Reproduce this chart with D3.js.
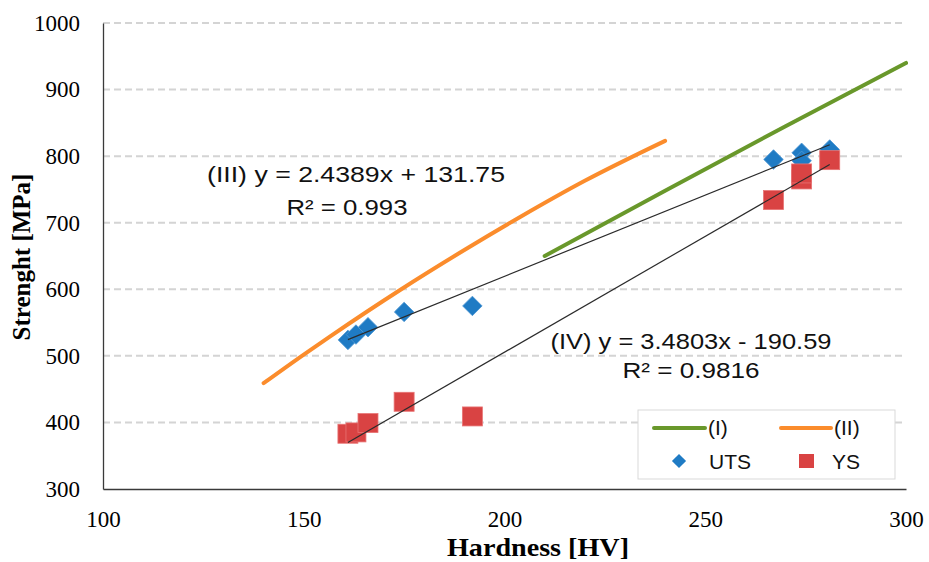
<!DOCTYPE html>
<html>
<head>
<meta charset="utf-8">
<script src="https://cdn.jsdelivr.net/npm/d3@7"></script>
<style>
  html, body { margin: 0; padding: 0; background: #fff; }
  svg { display: block; }
</style>
</head>
<body>
<svg id="chart" width="929" height="562"></svg>
<script>
// Hardness (HV) of the tested samples
const hardness = [161, 163, 166, 175, 192, 267, 274, 274, 281];
// Ultimate tensile strength (MPa)
const uts = [524, 532, 543, 566, 575, 795, 805, 793, 810];
// Yield strength (MPa)
const ys = [383, 385, 399, 431, 409, 734, 765, 774, 794];

// Reference relation (I): hardness, strength
const curveIx = [210, 240, 270, 300];
const curveIy = [650, 748, 845, 940];
// Reference relation (II): hardness, strength
const curveIIx = [140, 150, 156.5, 174, 190, 204, 220, 240];
const curveIIy = [459, 502, 529, 599, 659, 709, 763, 823];

// Linear fits (III) for UTS and (IV) for YS
const fitIII = { slope: 2.4389, intercept: 131.75, r2: "0.993" };
const fitIV = { slope: 3.4803, intercept: -190.59, r2: "0.9816" };
const fitRange = [161, 281];

const xTicks = [100, 150, 200, 250, 300];
const yTicks = [300, 400, 500, 600, 700, 800, 900, 1000];

const svg = d3.select("#chart");
const x = d3.scaleLinear().domain([100, 300]).range([103, 906]);
const y = d3.scaleLinear().domain([300, 1000]).range([489, 23]);

const serif = "'Liberation Serif', 'Times New Roman', serif";
const sans = "'Liberation Sans', Arial, sans-serif";

// horizontal gridlines
svg.append("g").selectAll("line")
  .data(yTicks.filter(v => v > 300))
  .join("line")
  .attr("x1", x(100)).attr("x2", x(300))
  .attr("y1", d => y(d)).attr("y2", d => y(d))
  .attr("stroke", "#d4d4d4").attr("stroke-width", 2)
  .attr("stroke-dasharray", "7,4");

// axes
const fmt = d3.format("d");
const xAxis = d3.axisBottom(x).tickValues(xTicks).tickFormat(fmt).tickSize(0).tickPadding(22);
const yAxis = d3.axisLeft(y).tickValues(yTicks).tickFormat(fmt).tickSize(0).tickPadding(23);

const gx = svg.append("g").attr("transform", `translate(0,${y(300)})`).call(xAxis);
const gy = svg.append("g").attr("transform", `translate(${x(100)},0)`).call(yAxis);
[gx, gy].forEach(g => {
  g.select(".domain").attr("stroke", "#3a3a3a").attr("stroke-width", 1.3);
  g.selectAll("text").attr("font-family", serif).attr("font-size", 23).attr("fill", "#000");
});

// axis titles
svg.append("text")
  .attr("x", 538).attr("y", 556)
  .attr("text-anchor", "middle")
  .attr("font-family", serif).attr("font-weight", "bold").attr("font-size", 25)
  .attr("textLength", 182).attr("lengthAdjust", "spacingAndGlyphs")
  .text("Hardness [HV]");
svg.append("text")
  .attr("transform", `translate(30,257) rotate(-90)`)
  .attr("text-anchor", "middle")
  .attr("font-family", serif).attr("font-weight", "bold").attr("font-size", 25)
  .text("Strenght [MPa]");

// reference curves
const curve = d3.line().x(d => x(d[0])).y(d => y(d[1])).curve(d3.curveMonotoneX);
svg.append("path")
  .datum(curveIIx.map((v, i) => [v, curveIIy[i]]))
  .attr("d", curve).attr("fill", "none")
  .attr("stroke", "#fb8c2c").attr("stroke-width", 4).attr("stroke-linecap", "round");
svg.append("path")
  .datum(curveIx.map((v, i) => [v, curveIy[i]]))
  .attr("d", curve).attr("fill", "none")
  .attr("stroke", "#69982b").attr("stroke-width", 4).attr("stroke-linecap", "round");

// markers
const diamond = d3.symbol().type(d3.symbolSquare).size(190);
svg.append("g").selectAll("path")
  .data(hardness.map((h, i) => [h, uts[i]]))
  .join("path")
  .attr("d", diamond)
  .attr("transform", d => `translate(${x(d[0])},${y(d[1])}) rotate(45)`)
  .attr("fill", "#1f7bc4").attr("stroke", "#4f97d3").attr("stroke-width", 0.8);

svg.append("g").selectAll("rect")
  .data(hardness.map((h, i) => [h, ys[i]]))
  .join("rect")
  .attr("x", d => x(d[0]) - 10).attr("y", d => y(d[1]) - 9.5)
  .attr("width", 20).attr("height", 19)
  .attr("fill", "#d94343").attr("stroke", "#e87474").attr("stroke-width", 0.8);

// trend lines
[fitIII, fitIV].forEach(f => {
  svg.append("line")
    .attr("x1", x(fitRange[0])).attr("y1", y(f.slope * fitRange[0] + f.intercept))
    .attr("x2", x(fitRange[1])).attr("y2", y(f.slope * fitRange[1] + f.intercept))
    .attr("stroke", "#2b2b2b").attr("stroke-width", 1.2);
});

// fit equations
function eqLabel(pos, fit, tag) {
  const sign = fit.intercept < 0 ? " - " : " + ";
  const style = t => t.attr("text-anchor", "middle").attr("font-family", sans)
    .attr("font-size", 22).attr("fill", "#111").attr("lengthAdjust", "spacingAndGlyphs");
  svg.append("text")
    .attr("x", pos.cx1).attr("y", pos.y1).attr("textLength", pos.w1).call(style)
    .text(`(${tag}) y = ${fit.slope}x${sign}${Math.abs(fit.intercept)}`);
  svg.append("text")
    .attr("x", pos.cx2).attr("y", pos.y2).attr("textLength", pos.w2).call(style)
    .text(`R² = ${fit.r2}`);
}
eqLabel({ cx1: 356, y1: 182, w1: 298, cx2: 347, y2: 215, w2: 121 }, fitIII, "III");
eqLabel({ cx1: 691, y1: 349, w1: 281, cx2: 691, y2: 378, w2: 137 }, fitIV, "IV");

// legend
const lg = svg.append("g");
lg.append("rect")
  .attr("x", 638).attr("y", 410).attr("width", 257).attr("height", 69)
  .attr("fill", "#fff").attr("stroke", "#d9d9d9").attr("stroke-width", 1);
const legendFont = g => g.attr("font-family", sans).attr("font-size", 21).attr("fill", "#111");
lg.append("line").attr("x1", 654).attr("x2", 705).attr("y1", 428).attr("y2", 428)
  .attr("stroke", "#69982b").attr("stroke-width", 4).attr("stroke-linecap", "round");
lg.append("text").attr("x", 708).attr("y", 435).call(legendFont).text("(I)");
lg.append("line").attr("x1", 781).attr("x2", 831).attr("y1", 428).attr("y2", 428)
  .attr("stroke", "#fb8c2c").attr("stroke-width", 4).attr("stroke-linecap", "round");
lg.append("text").attr("x", 834).attr("y", 435).call(legendFont).text("(II)");
lg.append("path").attr("d", d3.symbol().type(d3.symbolSquare).size(100))
  .attr("transform", "translate(679,461) rotate(45)").attr("fill", "#1f7bc4");
lg.append("text").attr("x", 709).attr("y", 469).call(legendFont).text("UTS");
lg.append("rect").attr("x", 799).attr("y", 454).attr("width", 15).attr("height", 14)
  .attr("fill", "#d94343");
lg.append("text").attr("x", 832).attr("y", 469).call(legendFont).text("YS");
</script>
</body>
</html>
